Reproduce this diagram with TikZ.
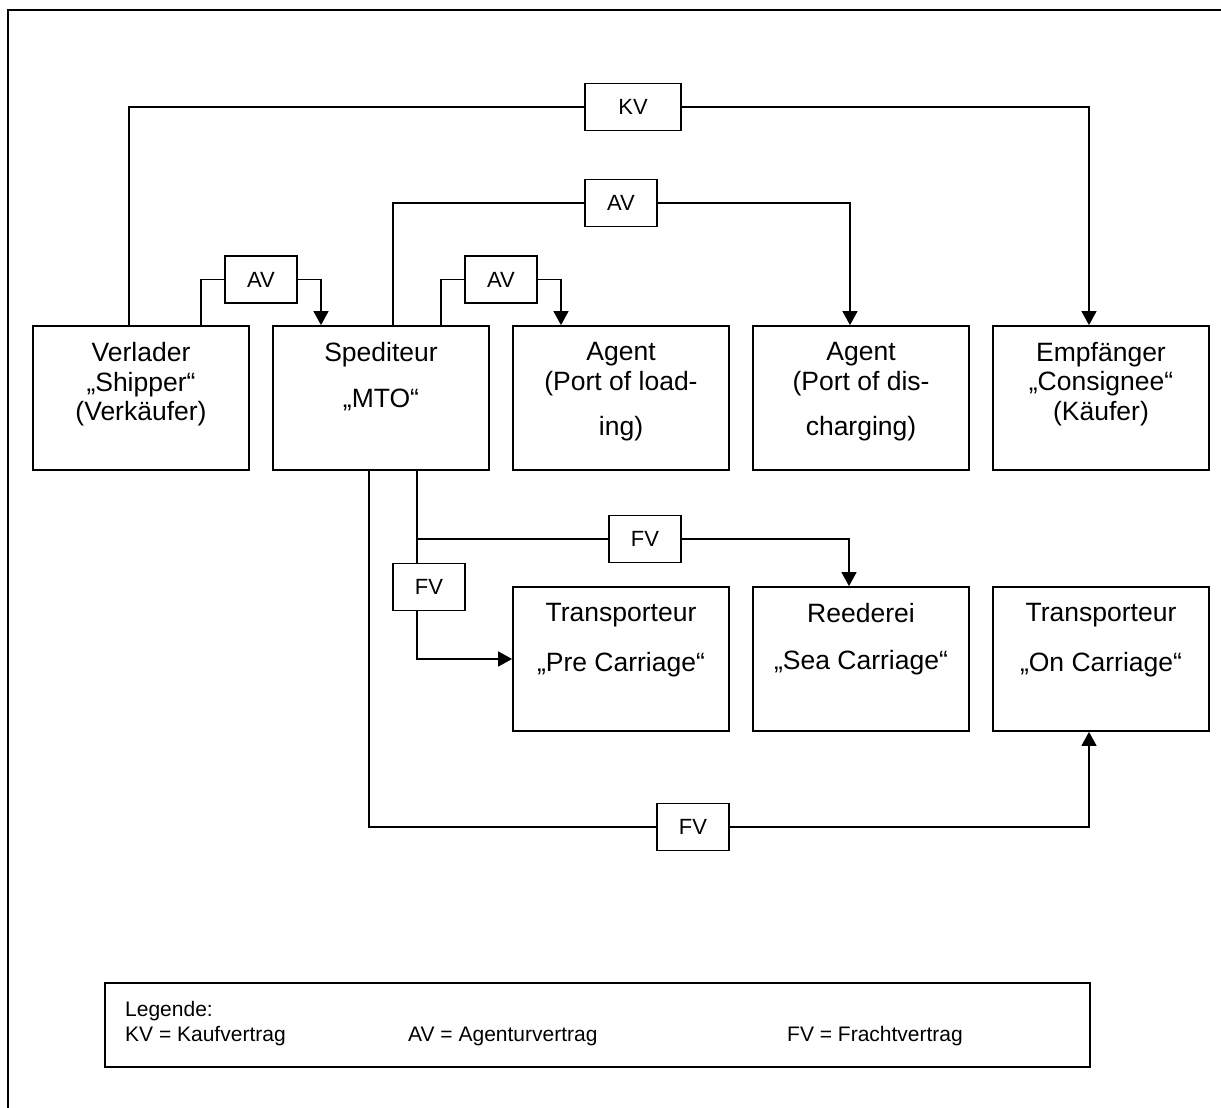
\documentclass[tikz,border=0pt]{standalone}
\usepackage{fontspec}
\setmainfont{Liberation Sans}
\usetikzlibrary{arrows.meta}
\newcommand\bxfont{\fontsize{26.5}{29.5}\selectfont}
\newcommand\tgfont{\fontsize{22}{26}\selectfont}
\newcommand\lgfont{\fontsize{21}{25}\selectfont}
\tikzset{
  box/.style={draw, line width=1.8pt, minimum width=216pt, minimum height=144pt, inner sep=0pt},
  boxtext/.style={font=\bxfont, align=center, inner sep=0pt, anchor=north},
  tag/.style={draw, line width=1.6pt, fill=white, font=\tgfont, minimum width=72pt, minimum height=47pt, inner sep=0pt},
  conn/.style={line width=1.5pt},
  arr/.style={conn, -{Triangle[width=15pt,length=14pt]}},
  lgtext/.style={font=\lgfont, inner sep=0pt, anchor=base west},
  frame/.style={line width=2.2pt}
}
\begin{document}
\begin{tikzpicture}[x=1pt,y=-1pt]
\useasboundingbox (0,0) rectangle (1221,1108);
\clip (0,0) rectangle (1221,1108);
\fill[white] (0,0) rectangle (1221,1108);
% outer frame (right and bottom edges lie outside)
\draw[frame] (8,1130) |- (1240,10);

% main boxes, row 1
\node[box] (ver)  at (141,398) {};
\node[box] (sped) at (381,398) {};
\node[box] (ag1)  at (621,398) {};
\node[box] (ag2)  at (861,398) {};
\node[box] (emp)  at (1101,398) {};
% row 2
\node[box] (tr1)  at (621,659) {};
\node[box] (reed) at (861,659) {};
\node[box] (tr2)  at (1101,659) {};

% box texts
\node[boxtext] (verT)  at ([yshift=-17pt]ver.north)  {Verlader\\„Shipper“\\(Verkäufer)};
\node[boxtext] (spedT) at ([yshift=-17pt]sped.north) {Spediteur\\[16pt]„MTO“};
\node[boxtext] (ag1T)  at ([yshift=-17pt]ag1.north)  {Agent\\(Port of load-\\[16pt]ing)};
\node[boxtext] (ag2T)  at ([yshift=-17pt]ag2.north)  {Agent\\(Port of dis-\\[16pt]charging)};
\node[boxtext] (empT)  at ([yshift=-17pt]emp.north)  {Empfänger\\„Consignee“\\(Käufer)};
\node[boxtext] (tr1T)  at ([yshift=-17pt]tr1.north)  {Transporteur\\[20pt]„Pre Carriage“};
\node[boxtext] (reedT) at ([yshift=-17pt]reed.north) {Reederei\\[17pt]„Sea Carriage“};
\node[boxtext] (tr2T)  at ([yshift=-17pt]tr2.north)  {Transporteur\\[20pt]„On Carriage“};

% contract tags
\node[tag, minimum width=96pt] (kv) at (633,107) {KV};
\node[tag] (avtop) at (621,203) {AV};
\node[tag] (av1)   at (261,279.5) {AV};
\node[tag] (av2)   at (501,279.5) {AV};
\node[tag] (fvtop) at (645,539) {FV};
\node[tag] (fvs)   at (429,587) {FV};
\node[tag] (fvbot) at (693,827) {FV};

% KV: Verlader -> Empfaenger
\draw[conn] ([xshift=-12pt]ver.north) |- (kv.west);
\draw[arr]  (kv.east) -| ([xshift=-12pt]emp.north);
% AV: Spediteur -> Agent (discharging)
\draw[conn] ([xshift=12pt]sped.north) |- (avtop.west);
\draw[arr]  (avtop.east) -| ([xshift=-11pt]ag2.north);
% AV: Verlader -> Spediteur
\draw[conn] ([xshift=60pt]ver.north) |- (av1.west);
\draw[arr]  (av1.east) -| ([xshift=-60pt]sped.north);
% AV: Spediteur -> Agent (loading)
\draw[conn] ([xshift=60pt]sped.north) |- (av2.west);
\draw[arr]  (av2.east) -| ([xshift=-60pt]ag1.north);
% FV: Spediteur -> Reederei
\draw[conn] ([xshift=36pt]sped.south) |- (fvtop.west);
\draw[arr]  (fvtop.east) -| ([xshift=-12pt]reed.north);
% FV: Spediteur -> Transporteur (Pre Carriage)
\draw[conn] ([xshift=36pt]sped.south) -- ([xshift=-12pt]fvs.north);
\draw[arr]  ([xshift=-12pt]fvs.south) |- (tr1.west);
% FV: Spediteur -> Transporteur (On Carriage)
\draw[conn] ([xshift=-12pt]sped.south) |- (fvbot.west);
\draw[arr]  (fvbot.east) -| ([xshift=-12pt]tr2.south);

% legend
\node[draw, line width=1.6pt, minimum width=985pt, minimum height=84pt, inner sep=0pt] (leg) at (597.5,1025) {};
\node[lgtext] (leg0) at (125,1016) {Legende:};
\node[lgtext] (leg1) at (125,1041) {KV = Kaufvertrag};
\node[lgtext] (leg2) at (408,1041) {AV = Agenturvertrag};
\node[lgtext] (leg3) at (787,1041) {FV = Frachtvertrag};
\end{tikzpicture}
\end{document}
